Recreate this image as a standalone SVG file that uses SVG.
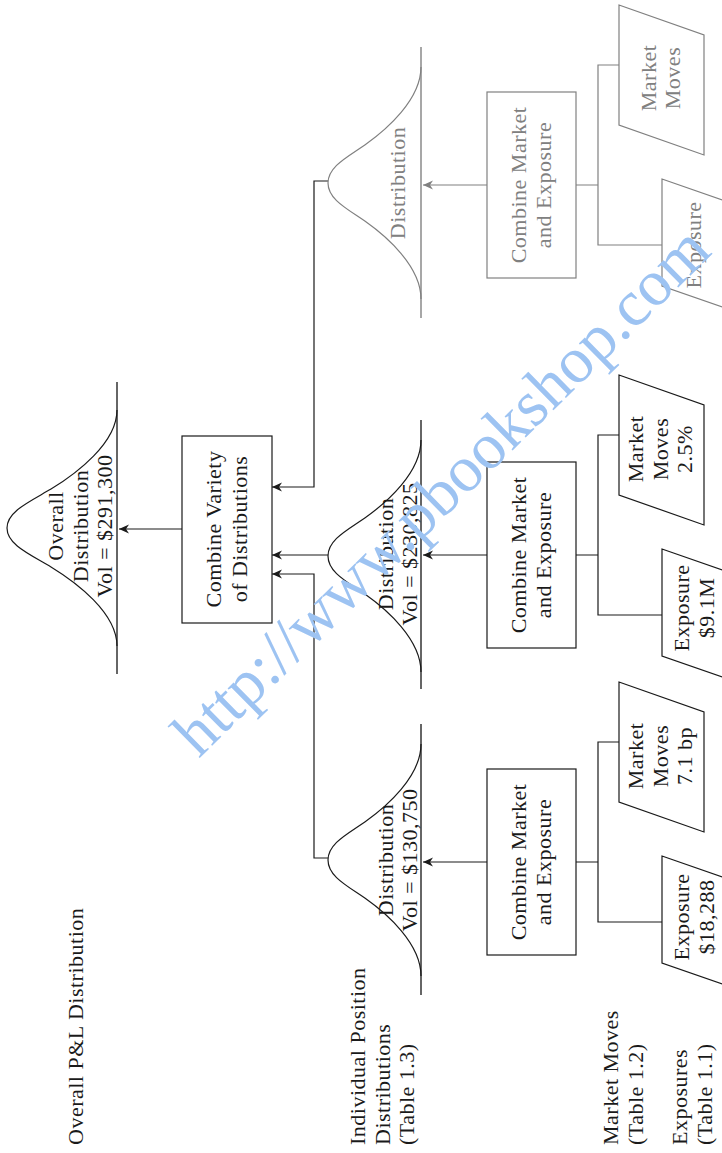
<svg xmlns="http://www.w3.org/2000/svg" width="722" height="1153" viewBox="0 0 722 1153">
<style>
.ln{stroke:#1a1a1a;stroke-width:1.2;fill:none}
.lg{stroke:#808080;stroke-width:1.2;fill:none}
.base{stroke:#333;stroke-width:1.5;fill:none}
.baseg{stroke:#8a8a8a;stroke-width:1.5;fill:none}
.box{stroke:#1a1a1a;stroke-width:1.2;fill:#fff}
.boxg{stroke:#808080;stroke-width:1.2;fill:#fff}
.t{font-family:"Liberation Serif","Times New Roman",serif;font-size:22px;letter-spacing:0.5px;fill:#1a1a1a}
.tg{fill:#808080}
.wm{font-family:"Liberation Serif","Times New Roman",serif;font-size:65px;fill:#9dc3f2}
</style>
<defs>
<marker id="ah" viewBox="-11 -6 12 12" refX="0" refY="0" markerWidth="12" markerHeight="12" markerUnits="userSpaceOnUse" orient="auto">
<path d="M0,0 L-10,-4.5 L-7,0 L-10,4.5 Z" fill="#1a1a1a"/>
</marker>
<marker id="ahg" viewBox="-11 -6 12 12" refX="0" refY="0" markerWidth="12" markerHeight="12" markerUnits="userSpaceOnUse" orient="auto">
<path d="M0,0 L-10,-4.5 L-7,0 L-10,4.5 Z" fill="#808080"/>
</marker>
</defs>

<!-- Row labels -->
<g id="labels" class="t">
<text transform="translate(0,1145) rotate(-90)"><tspan x="0" y="83">Overall P&amp;L Distribution</tspan></text>
<text transform="translate(0,1145) rotate(-90)"><tspan x="0" y="365">Individual Position</tspan><tspan x="0" y="390">Distributions</tspan><tspan x="0" y="414">(Table 1.3)</tspan></text>
<text transform="translate(0,1145) rotate(-90)"><tspan x="0" y="618">Market Moves</tspan><tspan x="0" y="643">(Table 1.2)</tspan></text>
<text transform="translate(0,1145) rotate(-90)"><tspan x="0" y="687">Exposures</tspan><tspan x="0" y="711.5">(Table 1.1)</tspan></text>
</g>

<!-- Connectors -->
<g id="connectors">
<path class="ln" d="M182,529 L119,529" marker-end="url(#ah)"/>
<path class="ln" d="M328,181 L314,181 L314,487 L272,487" marker-end="url(#ah)"/>
<path class="ln" d="M328,555 L272,555" marker-end="url(#ah)"/>
<path class="ln" d="M328,858 L314,858 L314,574 L272,574" marker-end="url(#ah)"/>
<path class="ln" d="M487,862 L423,862" marker-end="url(#ah)"/>
<path class="ln" d="M487,555 L423,555" marker-end="url(#ah)"/>
<path class="lg" d="M487,185 L423,185" marker-end="url(#ahg)"/>
<path class="ln" d="M576,862 L598,862 M619,742 L598,742 L598,922 L662,922"/>
<path class="ln" d="M576,555 L598,555 M619,435 L598,435 L598,615 L662,615"/>
<path class="lg" d="M576,185 L598,185 M619,65 L598,65 L598,245 L662,245"/>
</g>

<!-- Overall distribution -->
<g id="overall-dist">
<line class="base" x1="117" y1="382" x2="117" y2="674"/>
<path class="ln" d="M117,646 C117,613 76.3,582.3 51,566.9 C29,554 7,544.5 7,528 C7,511.5 29,502 51,489.1 C76.3,473.7 117,443 117,410"/>
<text class="t" transform="translate(0,526) rotate(-90)" text-anchor="middle"><tspan x="0" y="63">Overall</tspan><tspan x="0" y="88">Distribution</tspan><tspan x="0" y="112">Vol = $291,300</tspan></text>
</g>

<!-- Combine variety -->
<g id="combine-variety">
<rect class="box" x="182" y="436" width="90" height="187"/>
<text class="t" transform="translate(0,529) rotate(-90)" text-anchor="middle"><tspan x="0" y="221">Combine Variety</tspan><tspan x="0" y="247">of Distributions</tspan></text>
</g>

<!-- Distribution 1 -->
<g id="dist-1">
<line class="base" x1="421" y1="724" x2="421" y2="995"/>
<path class="ln" d="M421,976 C421,943.5 386.6,913.4 365.2,898.3 C346.6,885.5 328,876.2 328,860 C328,843.8 346.6,834.5 365.2,821.7 C386.6,806.6 421,776.5 421,744"/>
<text class="t" transform="translate(0,860) rotate(-90)" text-anchor="middle"><tspan x="0" y="393">Distribution</tspan><tspan x="0" y="417">Vol = $130,750</tspan></text>
</g>

<!-- Distribution 2 -->
<g id="dist-2">
<line class="base" x1="421" y1="420" x2="421" y2="689"/>
<path class="ln" d="M421,672 C421,639.5 386.6,609.4 365.2,594.3 C346.6,581.5 328,572.2 328,556 C328,539.8 346.6,530.5 365.2,517.7 C386.6,502.6 421,472.5 421,440"/>
<text class="t" transform="translate(0,554) rotate(-90)" text-anchor="middle"><tspan x="0" y="393">Distribution</tspan><tspan x="0" y="417">Vol = $230,825</tspan></text>
</g>

<!-- Distribution 3 (gray) -->
<g id="dist-3">
<line class="baseg" x1="421" y1="47" x2="421" y2="318"/>
<path class="lg" d="M421,299 C421,266.5 386.6,236.4 365.2,221.3 C346.6,208.5 328,199.2 328,183 C328,166.8 346.6,157.5 365.2,144.7 C386.6,129.6 421,99.5 421,67"/>
<text class="t tg" transform="translate(0,183) rotate(-90)" text-anchor="middle"><tspan x="0" y="405">Distribution</tspan></text>
</g>

<!-- Combine market & exposure boxes -->
<g id="combine-1">
<rect class="box" x="487" y="769" width="89" height="186"/>
<text class="t" transform="translate(0,862) rotate(-90)" text-anchor="middle"><tspan x="0" y="526">Combine Market</tspan><tspan x="0" y="551">and Exposure</tspan></text>
</g>
<g id="combine-2">
<rect class="box" x="487" y="462" width="89" height="186"/>
<text class="t" transform="translate(0,555) rotate(-90)" text-anchor="middle"><tspan x="0" y="526">Combine Market</tspan><tspan x="0" y="551">and Exposure</tspan></text>
</g>
<g id="combine-3">
<rect class="boxg" x="487" y="92" width="89" height="186"/>
<text class="t tg" transform="translate(0,185) rotate(-90)" text-anchor="middle"><tspan x="0" y="526">Combine Market</tspan><tspan x="0" y="551">and Exposure</tspan></text>
</g>

<!-- Market moves -->
<g id="market-1">
<polygon class="box" points="619,682 704,712 704,832 619,802"/>
<text class="t" transform="translate(0,756) rotate(-90)" text-anchor="middle"><tspan x="0" y="643">Market</tspan><tspan x="0" y="667.5">Moves</tspan><tspan x="0" y="692">7.1 bp</tspan></text>
</g>
<g id="market-2">
<polygon class="box" points="619,375 704,405 704,525 619,495"/>
<text class="t" transform="translate(0,449) rotate(-90)" text-anchor="middle"><tspan x="0" y="643">Market</tspan><tspan x="0" y="667.5">Moves</tspan><tspan x="0" y="692">2.5%</tspan></text>
</g>
<g id="market-3">
<polygon class="boxg" points="619,5 704,35 704,155 619,125"/>
<text class="t tg" transform="translate(0,78) rotate(-90)" text-anchor="middle"><tspan x="0" y="655.5">Market</tspan><tspan x="0" y="680">Moves</tspan></text>
</g>

<!-- Exposures -->
<g id="exposure-1">
<polygon class="box" points="662,856 748,886 748,993 662,963"/>
<text class="t" transform="translate(0,917) rotate(-90)" text-anchor="middle"><tspan x="0" y="689">Exposure</tspan><tspan x="0" y="713.5">$18,288</tspan></text>
</g>
<g id="exposure-2">
<polygon class="box" points="662,549 748,579 748,686 662,656"/>
<text class="t" transform="translate(0,608) rotate(-90)" text-anchor="middle"><tspan x="0" y="689">Exposure</tspan><tspan x="0" y="713.5">$9.1M</tspan></text>
</g>
<g id="exposure-3">
<polygon class="boxg" points="662,179 748,209 748,316 662,286"/>
<text class="t tg" transform="translate(0,245) rotate(-90)" text-anchor="middle"><tspan x="0" y="701">Exposure</tspan></text>
</g>

<!-- Watermark -->
<text class="wm" transform="translate(456,506) rotate(-44.5)" text-anchor="middle">http://www.pbookshop.com</text>
</svg>
